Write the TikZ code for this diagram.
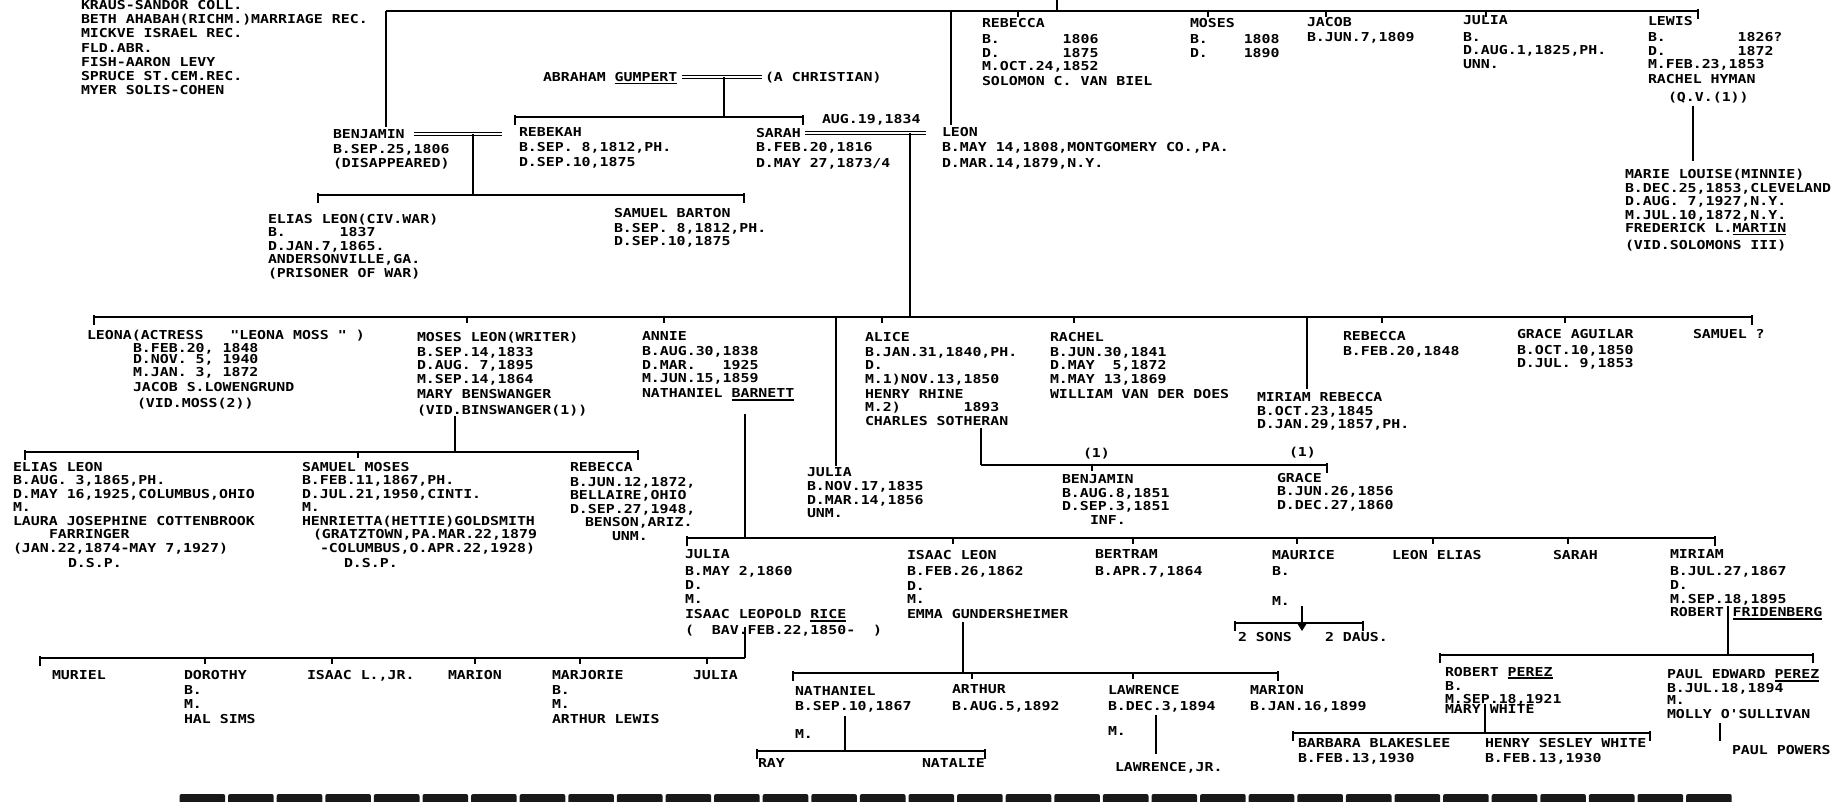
\documentclass[tikz,border=0pt]{standalone}
\usepackage{fontspec}
\newfontfamily\chartfont{DejaVu Sans Mono}[FakeStretch=1.21]
\newcommand\undl[1]{\leavevmode\vtop{\hbox{#1}\kern1.3pt\hrule height 1.3pt}}
\newcommand\indt[1]{\hspace*{#1pt}}
\newcommand\barend[3]{\coordinate (#1) at (#2,#3); \draw[tick] (#1) ++(0,-2) -- ++(0,10);}
\newcommand\barmid[3]{\coordinate (#1) at (#2,#3); \draw[tick] (#1) ++(0,-1.5) -- ++(0,7.5);}
\tikzset{
  lbl/.style={anchor=north west, inner sep=0pt, outer sep=0pt, align=left, yshift=5pt,
    font=\chartfont\bfseries\fontsize{12.3}{13.5}\selectfont, execute at begin node=\strut},
  conn/.style={line width=1.8pt},
  tick/.style={line width=1.4pt},
  marr/.style={double, line width=1.4pt, double distance=1.6pt},
}
\begin{document}
\begin{tikzpicture}[x=1pt,y=-1pt]
\fill[white] (0,0) rectangle (1845,801);
\useasboundingbox (0,0) rectangle (1845,801);

% ---------- texts ----------
\node[lbl] (src) at (81,5) {KRAUS-SANDOR COLL.\\[0.8pt]BETH AHABAH(RICHM.)MARRIAGE REC.\\[0.8pt]MICKVE ISRAEL REC.\\[0.8pt]FLD.ABR.\\[0.8pt]FISH-AARON LEVY\\[0.8pt]SPRUCE ST.CEM.REC.\\[0.8pt]MYER SOLIS-COHEN};

\node[lbl] (rebecca1) at (982,23) {REBECCA\\[3pt]B.~~~~~~~1806\\D.~~~~~~~1875\\M.OCT.24,1852\\[1.5pt]SOLOMON C. VAN BIEL};
\node[lbl] (moses1) at (1190,23) {MOSES\\[3pt]B.~~~~1808\\D.~~~~1890};
\node[lbl] (jacob) at (1307,22) {JACOB\\[2pt]B.JUN.7,1809};
\node[lbl] (julia1) at (1463,21) {JULIA\\[3pt]B.\\D.AUG.1,1825,PH.\\UNN.};
\node[lbl] (lewis) at (1648,21) {LEWIS\\[3pt]B.~~~~~~~~1826?\\D.~~~~~~~~1872\\M.FEB.23,1853\\[1.5pt]RACHEL HYMAN\\[4pt]\indt{20}(Q.V.(1))};
\node[lbl] (marie) at (1625,174) {MARIE LOUISE(MINNIE)\\[0.5pt]B.DEC.25,1853,CLEVELAND\\D.AUG.~7,1927,N.Y.\\M.JUL.10,1872,N.Y.\\FREDERICK L.\undl{MARTIN}\\[3pt](VID.SOLOMONS III)};

\node[lbl] (benj) at (333,135) {BENJAMIN\\[1.5pt]B.SEP.25,1806\\[0.5pt](DISAPPEARED)};
\node[lbl] (rebekah) at (519,133) {REBEKAH\\[1pt]B.SEP.~8,1812,PH.\\[2pt]D.SEP.10,1875};
\node[lbl] (abraham) at (543,77) {ABRAHAM \undl{GUMPERT}};
\node[lbl] (christian) at (765,77) {(A CHRISTIAN)};
\node[lbl] (sarah) at (756,133) {SARAH\\[1pt]B.FEB.20,1816\\[2pt]D.MAY 27,1873/4};
\node[lbl] (aug) at (822,119) {AUG.19,1834};
\node[lbl] (leon) at (942,132) {LEON\\[2pt]B.MAY 14,1808,MONTGOMERY CO.,PA.\\[2pt]D.MAR.14,1879,N.Y.};
\node[lbl] (elias1) at (268,219) {ELIAS LEON(CIV.WAR)\\B.~~~~~~1837\\D.JAN.7,1865.\\ANDERSONVILLE,GA.\\(PRISONER OF WAR)};
\node[lbl] (barton) at (614,213) {SAMUEL BARTON\\[1.5pt]B.SEP.~8,1812,PH.\\D.SEP.10,1875};

\node[lbl] (leona) at (87,335) {LEONA(ACTRESS~~~"LEONA MOSS~"~)\\[0pt]\indt{46}B.FEB.20, 1848\\[-2.5pt]\indt{46}D.NOV.~5, 1940\\[-1pt]\indt{46}M.JAN.~3, 1872\\[1.5pt]\indt{46}JACOB S.LOWENGRUND\\[3pt]\indt{50}(VID.MOSS(2))};
\node[lbl] (mosesL) at (417,337) {MOSES LEON(WRITER)\\[1.5pt]B.SEP.14,1833\\D.AUG.~7,1895\\M.SEP.14,1864\\[1.5pt]MARY BENSWANGER\\[2.5pt](VID.BINSWANGER(1))};
\node[lbl] (annie) at (642,337) {ANNIE\\[1.5pt]B.AUG.30,1838\\D.MAR.~~~1925\\M.JUN.15,1859\\[1.5pt]NATHANIEL \undl{BARNETT}};
\node[lbl] (alice) at (865,337) {ALICE\\[1.5pt]B.JAN.31,1840,PH.\\D.\\M.1)NOV.13,1850\\[1.5pt]HENRY RHINE\\M.2)~~~~~~~1893\\CHARLES SOTHERAN};
\node[lbl] (rachel) at (1050,337) {RACHEL\\[1.5pt]B.JUN.30,1841\\D.MAY~~5,1872\\M.MAY 13,1869\\[1.5pt]WILLIAM VAN DER DOES};
\node[lbl] (rebecca2) at (1343,336) {REBECCA\\[1.5pt]B.FEB.20,1848};
\node[lbl] (grace1) at (1517,334) {GRACE AGUILAR\\[2.5pt]B.OCT.10,1850\\D.JUL.~9,1853};
\node[lbl] (samuel2) at (1693,334) {SAMUEL ?};
\node[lbl] (miriamR) at (1257,397) {MIRIAM REBECCA\\[0.5pt]B.OCT.23,1845\\D.JAN.29,1857,PH.};
\node[lbl] (julia2) at (807,473) {JULIA\\[0.5pt]B.NOV.17,1835\\D.MAR.14,1856\\UNM.};
\node[lbl] (one1) at (1083,453) {(1)};
\node[lbl] (one2) at (1289,452) {(1)};
\node[lbl] (benj2) at (1062,480) {BENJAMIN\\B.AUG.8,1851\\D.SEP.3,1851\\\indt{28}INF.};
\node[lbl] (grace2) at (1277,478) {GRACE\\B.JUN.26,1856\\D.DEC.27,1860};

\node[lbl] (elias2) at (13,467) {ELIAS LEON\\B.AUG.~3,1865,PH.\\D.MAY 16,1925,COLUMBUS,OHIO\\M.\\LAURA JOSEPHINE COTTENBROOK\\\indt{36}FARRINGER\\(JAN.22,1874-MAY 7,1927)\\[2pt]\indt{55}D.S.P.};
\node[lbl] (samuelM) at (302,467) {SAMUEL MOSES\\B.FEB.11,1867,PH.\\D.JUL.21,1950,CINTI.\\M.\\HENRIETTA(HETTIE)GOLDSMITH\\\indt{11}(GRATZTOWN,PA.MAR.22,1879\\\indt{18}-COLUMBUS,O.APR.22,1928)\\[2pt]\indt{42}D.S.P.};
\node[lbl] (rebecca3) at (570,467) {REBECCA\\[1.5pt]B.JUN.12,1872,\\BELLAIRE,OHIO\\D.SEP.27,1948,\\\indt{15}BENSON,ARIZ.\\\indt{42}UNM.};

\node[lbl] (julia3) at (685,555) {JULIA\\[3pt]B.MAY 2,1860\\[1pt]D.\\M.\\[2pt]ISAAC LEOPOLD \undl{RICE}\\[2pt](~~BAV.FEB.22,1850-~~)};
\node[lbl] (isaacL) at (907,555) {ISAAC LEON\\[3pt]B.FEB.26,1862\\[1pt]D.\\M.\\[1.5pt]EMMA GUNDERSHEIMER};
\node[lbl] (bertram) at (1095,555) {BERTRAM\\[3pt]B.APR.7,1864};
\node[lbl] (maurice) at (1272,555) {MAURICE\\[3pt]B.\\[16pt]M.};
\node[lbl] (sons) at (1238,637) {2 SONS};
\node[lbl] (daus) at (1325,637) {2 DAUS.};
\node[lbl] (leonE) at (1392,555) {LEON ELIAS};
\node[lbl] (sarah3) at (1553,555) {SARAH};
\node[lbl] (miriam) at (1670,555) {MIRIAM\\[3pt]B.JUL.27,1867\\[1pt]D.\\M.SEP.18,1895\\ROBERT~\undl{FRIDENBERG}};

\node[lbl] (muriel) at (52,675) {MURIEL};
\node[lbl] (dorothy) at (184,675) {DOROTHY\\[2pt]B.\\M.\\[2pt]HAL SIMS};
\node[lbl] (isaacJr) at (307,675) {ISAAC L.,JR.};
\node[lbl] (marion1) at (448,675) {MARION};
\node[lbl] (marjorie) at (552,675) {MARJORIE\\[2pt]B.\\M.\\[2pt]ARTHUR LEWIS};
\node[lbl] (julia4) at (693,675) {JULIA};

\node[lbl] (nathaniel) at (795,692) {NATHANIEL\\[1.5pt]B.SEP.10,1867\\[14pt]M.};
\node[lbl] (ray) at (758,763) {RAY};
\node[lbl] (natalie) at (922,763) {NATALIE};
\node[lbl] (arthur) at (952,690) {ARTHUR\\[3pt]B.AUG.5,1892};
\node[lbl] (lawrence) at (1108,690) {LAWRENCE\\[3pt]B.DEC.3,1894\\[11pt]M.};
\node[lbl] (lawrenceJr) at (1115,767) {LAWRENCE,JR.};
\node[lbl] (marion2) at (1250,690) {MARION\\[3pt]B.JAN.16,1899};

\node[lbl] (robertP) at (1445,672) {ROBERT \undl{PEREZ}\\[1pt]B.\\[-1pt]M.SEP.18,1921\\[-3pt]MARY~WHITE};
\node[lbl] (paulE) at (1667,675) {PAUL EDWARD \undl{PEREZ}\\[0pt]B.JUL.18,1894\\[-1pt]M.\\[0pt]MOLLY O'SULLIVAN};
\node[lbl] (paulP) at (1732,750) {PAUL POWERS};
\node[lbl] (barbara) at (1298,743) {BARBARA BLAKESLEE\\[1.5pt]B.FEB.13,1930};
\node[lbl] (henry) at (1485,743) {HENRY SESLEY WHITE\\[1.5pt]B.FEB.13,1930};

% ---------- connectors ----------
\coordinate (tb0) at (386,11); \coordinate (tb1) at (1698,11);
\draw[conn] (tb0) -- (tb1);
\coordinate (benjUp) at (386,127); \draw[conn] (tb0) -- (benjUp);
\coordinate (leonTop) at (951,11); \coordinate (leonUp) at (951,125); \draw[conn] (leonTop) -- (leonUp);
\coordinate (parTop) at (1057,11); \coordinate (parUp) at (1057,0); \draw[conn] (parTop) -- (parUp);
\barmid{kReb}{1018}{11} \barmid{kMos}{1208}{11} \barmid{kJac}{1326}{11} \barmid{kJul}{1486}{11}
\barend{kLew}{1698}{11}
\coordinate (lewD) at (1693,106); \coordinate (marU) at (1693,161); \draw[conn] (lewD) -- (marU);

\coordinate (bm0) at (414,134); \coordinate (bm1) at (502,134); \draw[marr] (bm0) -- (bm1);
\coordinate (bmd0) at (473,134); \coordinate (bmd1) at (473,195); \draw[conn] (bmd0) -- (bmd1);
\coordinate (bb0) at (318,195); \coordinate (bb1) at (744,195); \draw[conn] (bb0) -- (bb1);
\barend{kEl}{318}{195} \barend{kBar}{744}{195}

\coordinate (gm0) at (682,77); \coordinate (gm1) at (762,77); \draw[marr] (gm0) -- (gm1);
\coordinate (gd0) at (724,77); \coordinate (gd1) at (724,117); \draw[conn] (gd0) -- (gd1);
\coordinate (gb0) at (515,117); \coordinate (gb1) at (803,117); \draw[conn] (gb0) -- (gb1);
\barend{kRbk}{515}{117} \barend{kSar}{803}{117}

\coordinate (sl0) at (805,133); \coordinate (sl1) at (926,133); \draw[marr] (sl0) -- (sl1);
\coordinate (sld0) at (910,133); \coordinate (sld1) at (910,317); \draw[conn] (sld0) -- (sld1);

\coordinate (lb0) at (94,317); \coordinate (lb1) at (1752,317); \draw[conn] (lb0) -- (lb1);
\barend{kLeona}{94}{317} \barend{kSam}{1752}{317}
\barmid{kMoL}{467}{317} \barmid{kAnn}{664}{317} \barmid{kAli}{882}{317}
\barmid{kRac}{1074}{317} \barmid{kReb2}{1382}{317} \barmid{kGra}{1565}{317}
\coordinate (jd0) at (836,317); \coordinate (jd1) at (836,466); \draw[conn] (jd0) -- (jd1);
\coordinate (md0) at (1307,317); \coordinate (md1) at (1307,389); \draw[conn] (md0) -- (md1);

\coordinate (mld0) at (455,416); \coordinate (mld1) at (455,452); \draw[conn] (mld0) -- (mld1);
\coordinate (mlb0) at (25,452); \coordinate (mlb1) at (638,452); \draw[conn] (mlb0) -- (mlb1);
\barend{kEl2}{25}{452} \barend{kReb3}{638}{452} \barmid{kSamM}{358}{452}

\coordinate (ad0) at (745,414); \coordinate (ad1) at (745,538); \draw[conn] (ad0) -- (ad1);
\coordinate (ab0) at (687,538); \coordinate (ab1) at (1715,538); \draw[conn] (ab0) -- (ab1);
\barend{kJul3}{687}{538} \barend{kMir}{1715}{538}
\barmid{kIsa}{953}{538} \barmid{kBer}{1133}{538} \barmid{kMau}{1297}{538}
\barmid{kLeE}{1433}{538} \barmid{kSar3}{1568}{538}

\coordinate (ald0) at (981,428); \coordinate (ald1) at (981,465); \draw[conn] (ald0) -- (ald1);
\coordinate (alb1) at (1327,465); \draw[conn] (ald1) -- (alb1);
\barend{kGr2}{1327}{465} \barmid{kBen2}{1092}{465}

\coordinate (jrd0) at (745,627); \coordinate (jrd1) at (745,658); \draw[conn] (jrd0) -- (jrd1);
\coordinate (jrb0) at (40,658); \draw[conn] (jrb0) -- (jrd1);
\barend{kMur}{40}{658}
\barmid{kDor}{205}{658} \barmid{kIsJ}{332}{658} \barmid{kMar1}{475}{658}
\barmid{kMarj}{580}{658} \barmid{kJul4}{707}{658}

\coordinate (id0) at (963,622); \coordinate (id1) at (963,673); \draw[conn] (id0) -- (id1);
\coordinate (ib0) at (793,673); \coordinate (ib1) at (1278,673); \draw[conn] (ib0) -- (ib1);
\barend{kNat}{793}{673} \barend{kMar2}{1278}{673}
\barmid{kArt}{972}{673} \barmid{kLaw}{1133}{673}

\coordinate (nd0) at (845,716); \coordinate (nd1) at (845,751); \draw[conn] (nd0) -- (nd1);
\coordinate (nb0) at (757,751); \coordinate (nb1) at (985,751); \draw[conn] (nb0) -- (nb1);
\barend{kRay}{757}{751} \barend{kNata}{985}{751}

\coordinate (lwd0) at (1156,715); \coordinate (lwd1) at (1156,754); \draw[conn] (lwd0) -- (lwd1);

\coordinate (mad0) at (1302,606); \coordinate (mad1) at (1302,623); \draw[conn] (mad0) -- (mad1);
\coordinate (mab0) at (1235,623); \coordinate (mab1) at (1363,623); \draw[conn] (mab0) -- (mab1);
\barend{kSons}{1235}{623} \barend{kDaus}{1363}{623}
\fill (mad1) ++(-5,0) -- ++(10,0) -- ++(-5,8) -- cycle;

\coordinate (fd0) at (1728,606); \coordinate (fd1) at (1728,655); \draw[conn] (fd0) -- (fd1);
\coordinate (fb0) at (1440,655); \coordinate (fb1) at (1813,655); \draw[conn] (fb0) -- (fb1);
\barend{kRobP}{1440}{655} \barend{kPaulE}{1813}{655}

\coordinate (pd0) at (1485,704); \coordinate (pd1) at (1485,733); \draw[conn] (pd0) -- (pd1);
\coordinate (pb0) at (1293,733); \coordinate (pb1) at (1650,733); \draw[conn] (pb0) -- (pb1);
\barend{kBarb}{1293}{733} \barend{kHen}{1650}{733}

\coordinate (ped0) at (1720,723); \coordinate (ped1) at (1720,741); \draw[conn] (ped0) -- (ped1);

% ---------- bottom strip ----------
\foreach \i in {0,...,31} {
  \fill[black!90, rounded corners=2pt] ({178+\i*48.6+1.5},794) rectangle ({178+(\i+1)*48.6-1.5},806);
}
\end{tikzpicture}
\end{document}
